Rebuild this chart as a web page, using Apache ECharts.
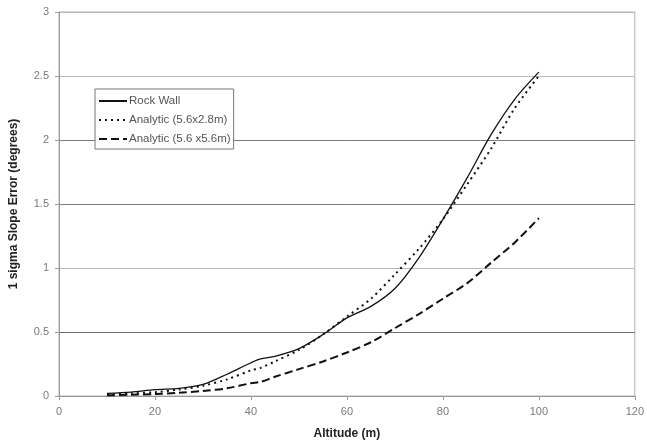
<!DOCTYPE html>
<html>
<head>
<meta charset="utf-8">
<script src="https://cdn.jsdelivr.net/npm/echarts@6/dist/echarts.min.js"></script>
<style>
  html, body { margin: 0; padding: 0; background: #fff; }
  #chart { width: 647px; height: 445px; }
</style>
</head>
<body>
<div id="chart"></div>
<script>
// Altitude samples (m)
const altitude = [10, 15, 20, 25, 30, 35, 40, 42, 45, 50, 55, 60, 65, 70, 75, 80, 85, 90, 95, 100];
// 1-sigma slope error (degrees) per series
const rockWall   = [0.02, 0.03, 0.05, 0.06, 0.09, 0.17, 0.26, 0.29, 0.31, 0.37, 0.48, 0.61, 0.70, 0.84, 1.08, 1.38, 1.70, 2.04, 2.32, 2.53];
const analytic28 = [0.01, 0.02, 0.03, 0.05, 0.08, 0.13, 0.20, 0.22, 0.27, 0.36, 0.48, 0.62, 0.76, 0.95, 1.15, 1.38, 1.65, 1.93, 2.25, 2.50];
const analytic56 = [0.005, 0.01, 0.015, 0.025, 0.04, 0.06, 0.10, 0.11, 0.15, 0.21, 0.27, 0.34, 0.42, 0.53, 0.64, 0.76, 0.88, 1.04, 1.20, 1.39];
const seriesNames = ['Rock Wall', 'Analytic (5.6x2.8m)', 'Analytic (5.6 x5.6m)'];
const xTicks = [0, 20, 40, 60, 80, 100, 120];
const yTicks = [0, 0.5, 1, 1.5, 2, 2.5, 3];

const pairs = ys => altitude.map((x, i) => [x, ys[i]]);

const chart = echarts.init(document.getElementById('chart'), null, { renderer: 'canvas' });
const tickFont = { color: '#7a7a7a', fontFamily: 'Liberation Sans, Arial, sans-serif', fontSize: 11 };

chart.setOption({
  animation: false,
  backgroundColor: '#fff',
  grid: { left: 55, right: 9, top: 12, bottom: 49, show: true, borderColor: '#b0b0b0', borderWidth: 1 },
  legend: {
    left: 95, top: 89,
    orient: 'vertical',
    backgroundColor: '#fff',
    borderColor: '#777',
    borderWidth: 1,
    padding: [6, 3, 4, 3],
    itemWidth: 28, itemHeight: 10, itemGap: 7,
    itemStyle: { opacity: 0 },
    textStyle: { color: '#555', fontFamily: 'Liberation Sans, Arial, sans-serif', fontSize: 11.5, padding: [0, 0, 0, -3] },
    data: seriesNames
  },
  xAxis: {
    type: 'value', min: 0, max: 120, interval: 20,
    name: 'Altitude (m)', nameLocation: 'middle', nameGap: 32,
    nameTextStyle: { color: '#222', fontWeight: 'bold', fontSize: 12, fontFamily: 'Liberation Sans, Arial, sans-serif' },
    axisLine: { show: true, lineStyle: { color: '#999', width: 1 } },
    axisTick: { show: true, length: 4, lineStyle: { color: '#999' } },
    axisLabel: Object.assign({ margin: 10, formatter: v => xTicks.includes(v) ? String(v) : '' }, tickFont),
    splitLine: { show: false }
  },
  yAxis: {
    type: 'value', min: 0, max: 3, interval: 0.5,
    name: '1 sigma Slope Error (degrees)', nameLocation: 'middle', nameGap: 39,
    nameTextStyle: { color: '#222', fontWeight: 'bold', fontSize: 12, fontFamily: 'Liberation Sans, Arial, sans-serif' },
    axisLine: { show: true, lineStyle: { color: '#999', width: 1 } },
    axisTick: { show: true, length: 4, lineStyle: { color: '#999' } },
    axisLabel: Object.assign({ margin: 10, formatter: v => yTicks.includes(v) ? String(v) : '' }, tickFont),
    splitLine: { show: true, lineStyle: { width: 1, color: ['#999', '#6f6f6f', '#b8b8b8', '#7a7a7a', '#7a7a7a', '#b8b8b8', '#b8b8b8'] } }
  },
  series: [
    {
      name: seriesNames[0], type: 'line', data: pairs(rockWall), smooth: 0.3,
      symbol: 'none', color: '#111',
      lineStyle: { color: '#111', width: 1.3, type: 'solid' }
    },
    {
      name: seriesNames[1], type: 'line', data: pairs(analytic28), smooth: 0.3,
      symbol: 'none', color: '#111',
      lineStyle: { color: '#111', width: 2, type: [2, 4] }
    },
    {
      name: seriesNames[2], type: 'line', data: pairs(analytic56), smooth: 0.3,
      symbol: 'none', color: '#111',
      lineStyle: { color: '#111', width: 2, type: [8, 4] }
    }
  ]
});
</script>
</body>
</html>
